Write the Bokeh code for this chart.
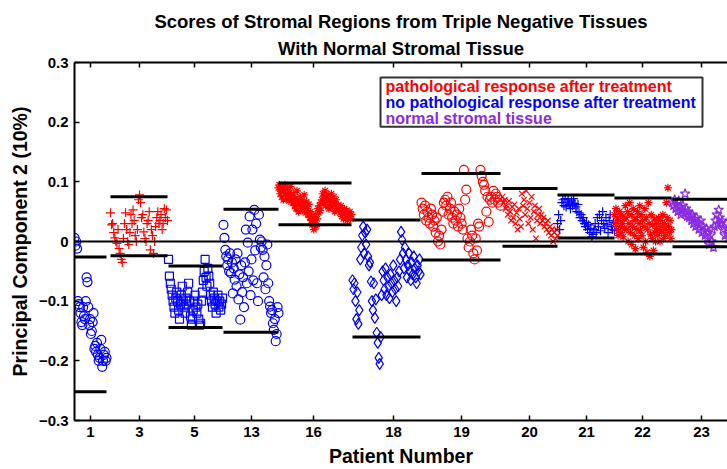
from bokeh.plotting import figure
from bokeh.models import (FixedTicker, LinearAxis, Range1d, Span, Title,
                          BoxAnnotation, Label, ColumnDataSource)
from bokeh.embed import file_html
from bokeh.resources import INLINE

FONT = "Liberation Sans"

# ---------------- data ----------------
patients = ["1", "3", "5", "13", "16", "18", "19", "20", "21", "22", "23"]
tick_positions = [16, 65, 120, 177, 239, 319, 387, 455, 512, 568, 627]
# sample-index range occupied by each patient
span_start = [0, 36, 94, 149, 204, 278, 347, 428, 483, 540, 598]
span_end = [32, 93, 148, 204, 277, 346, 426, 483, 540, 597, 660]
# upper / lower bounds drawn as black bars
upper_bound = [-0.026, 0.075, -0.041, 0.054, 0.098, 0.036, 0.114, 0.089, 0.078, 0.073, 0.071]
lower_bound = [-0.252, -0.024, -0.144, -0.152, 0.028, -0.160, -0.031, -0.008, 0.006, -0.021, -0.009]
group = ["none", "resp", "none", "none", "resp", "none", "resp", "resp", "none", "resp", "normal"]
markers = ["circle", "cross", "square", "circle", "asterisk", "diamond", "circle", "x", "cross", "asterisk", "star"]

p1 = [0.006, -0.007, 0.0, -0.012, -0.10, -0.105, -0.11, -0.12, -0.135, -0.14, -0.11, -0.125,
      -0.13, -0.10, -0.06, -0.068, -0.11, -0.14, -0.13, -0.155, -0.15, -0.135, -0.12, -0.18,
      -0.175, -0.185, -0.17, -0.19, -0.2, -0.195, -0.18, -0.165, -0.21, -0.2, -0.19, -0.185,
      -0.2, -0.195]
p3 = [0.048, 0.028, 0.03, 0.015, 0.006, 0.0, -0.003, 0.02, -0.012, -0.02, -0.03, -0.035,
      0.005, 0.03, 0.048, 0.02, 0.0, -0.005, 0.015, 0.045, 0.03, 0.053, 0.035, 0.01, 0.0,
      0.02, 0.07, 0.078, 0.065, 0.04, 0.045, 0.016, 0.005, 0.0, 0.03, 0.035, 0.05, -0.014,
      0.02, 0.01, -0.02, 0.0, 0.025, 0.04, 0.05, 0.03, 0.035, 0.045, 0.02, 0.03, 0.055,
      0.04, 0.053, 0.035]
p5 = [-0.03, -0.058, -0.07, -0.08, -0.09, -0.1, -0.11, -0.12, -0.095, -0.085, -0.1, -0.115,
      -0.13, -0.105, -0.09, -0.075, -0.1, -0.11, -0.12, -0.095, -0.105, -0.085, -0.07, -0.1,
      -0.125, -0.14, -0.13, -0.115, -0.1, -0.09, -0.11, -0.12, -0.105, -0.13, -0.14, -0.137,
      -0.1, -0.085, -0.065, -0.05, -0.03, -0.06, -0.075, -0.045, -0.058, -0.07, -0.09, -0.1,
      -0.11, -0.085, -0.095, -0.105, -0.12, -0.1, -0.09, -0.11, -0.1, -0.115, -0.105, -0.095]
p13 = [0.028, 0.006, -0.014, -0.025, -0.04, -0.03, -0.05, -0.02, -0.053, -0.035, -0.087, -0.045,
       -0.064, -0.03, -0.075, -0.02, -0.097, -0.055, -0.131, -0.04, -0.085, -0.06, -0.11, -0.035,
       0.02, -0.07, -0.002, -0.05, 0.042, -0.09, -0.03, 0.02, -0.065, 0.053, -0.015, 0.03,
       -0.07, -0.1, 0.045, 0.003, -0.01, 0.0, -0.014, -0.06, -0.025, -0.08, -0.04, -0.005,
       -0.07, -0.1, -0.109, -0.12, -0.115, -0.137, -0.148, -0.13, -0.167, -0.155, -0.11, -0.12]
p16 = [0.09, 0.095, 0.08, 0.085, 0.075, 0.09, 0.07, 0.085, 0.095, 0.08, 0.072, 0.088, 0.078,
       0.068, 0.082, 0.092, 0.075, 0.07,
       0.065, 0.08, 0.06, 0.072, 0.055, 0.085, 0.068, 0.05, 0.062, 0.075, 0.058, 0.07, 0.052,
       0.065, 0.078, 0.06, 0.048, 0.066,
       0.055, 0.045, 0.062, 0.04, 0.05, 0.035, 0.028, 0.04, 0.02, 0.032, 0.045, 0.025, 0.038,
       0.055, 0.048, 0.06, 0.052, 0.065,
       0.07, 0.08, 0.065, 0.075, 0.085, 0.06, 0.072, 0.068, 0.078, 0.055, 0.07, 0.062, 0.08,
       0.058, 0.066, 0.075, 0.05, 0.064, 0.07, 0.058, 0.06, 0.052,
       0.055, 0.048, 0.06, 0.042, 0.05, 0.038, 0.055, 0.045, 0.04, 0.052, 0.035, 0.048, 0.042,
       0.05, 0.038, 0.045]
p18 = [-0.065, -0.08, -0.07, -0.1, -0.13, -0.085, -0.138, -0.115,
       -0.03, -0.01, 0.01, 0.025, -0.02, 0.015, -0.005, 0.02, -0.025, -0.04,
       -0.035, -0.067, -0.1, -0.115, -0.07, -0.128, -0.097, -0.153, -0.17, -0.195, -0.205,
       -0.16, -0.09,
       -0.05, -0.065, -0.08, -0.045, -0.09, -0.06, -0.075, -0.095, -0.055, -0.07, -0.085,
       -0.04, -0.065, -0.08, -0.1, -0.06, -0.075, -0.05,
       -0.03, 0.016, 0.003, -0.02, -0.045, -0.01, -0.03, -0.06, -0.04, -0.02, -0.05, -0.065,
       -0.035, -0.055, -0.025, -0.045, -0.06, -0.07, -0.04, -0.05, -0.03, -0.055]
p19 = [0.065, 0.055, 0.045, 0.06, 0.035, 0.05, 0.04, 0.03, 0.055, 0.045, 0.025, 0.035, 0.015, 0.04,
       0.0, 0.01, -0.005, 0.02, 0.05, 0.065, 0.07, 0.06, 0.075, 0.045, 0.055, 0.065,
       0.04, 0.03, 0.05, 0.035, 0.045, 0.025, 0.055, 0.04, 0.03, 0.02,
       0.12, 0.07, 0.087, 0.005, -0.01, 0.0, 0.02, 0.01, -0.02, -0.03, 0.005, -0.015, 0.03, 0.025,
       0.12, 0.11, 0.1, 0.095, 0.085, 0.05, 0.075, 0.033, 0.07, 0.075, 0.065, 0.085, 0.07, 0.08,
       0.075, 0.065, 0.07, 0.06]
p20 = [0.075, 0.065, 0.07, 0.055, 0.06, 0.045, 0.068, 0.05, 0.035, 0.058, 0.04, 0.062, 0.03,
       0.048, 0.02, 0.055, 0.038, 0.025,
       0.08, 0.06, 0.07, 0.045, 0.085, 0.055, 0.03, 0.065, 0.04, 0.075, 0.02, 0.05, 0.06, 0.005,
       0.035, 0.045, 0.055, 0.03,
       0.045, 0.035, 0.04, 0.025, 0.03, 0.02, 0.035, 0.015, 0.025, 0.01, 0.02, 0.0, 0.015,
       0.005, 0.02, 0.01]
p21 = [0.03, 0.045, 0.02, 0.035,
       0.065, 0.07, 0.06, 0.072, 0.058, 0.066, 0.07, 0.062, 0.055, 0.068, 0.06, 0.072, 0.064,
       0.058, 0.05, 0.062,
       0.048, 0.04, 0.045, 0.035, 0.04, 0.03, 0.025, 0.032, 0.02, 0.028, 0.015, 0.022, 0.008,
       0.012,
       0.02, 0.03, 0.015, 0.04, 0.025, 0.045, 0.018, 0.035, 0.05, 0.03, 0.022, 0.04, 0.028,
       0.015, 0.035, 0.045, 0.025, 0.02, 0.032, 0.018]
p22 = [0.045, 0.03, 0.055, 0.02, 0.04, 0.01, 0.035, 0.05, 0.025, 0.015, 0.045, 0.03, 0.008,
       0.038, 0.022,
       0.06, 0.04, 0.02, 0.05, 0.0, 0.03, 0.065, 0.015, 0.045, -0.005, 0.025, 0.055, 0.035,
       0.01, -0.012, 0.04, 0.02, 0.05, 0.005, 0.03, 0.06, 0.018,
       0.045, 0.01, 0.035, -0.01, 0.025, 0.055, 0.0, 0.04, -0.018, 0.02, 0.065, 0.03, -0.025,
       0.012, 0.045, 0.005, 0.028, -0.015, 0.038, 0.015, 0.0, 0.022,
       0.03, 0.01, 0.04, 0.02, 0.0, 0.035, 0.015, 0.025, 0.045, 0.005, 0.03, 0.02, 0.01, 0.065,
       0.04, 0.09, 0.025, 0.015, 0.035, 0.005, 0.02]
p23 = [0.065, 0.06, 0.07, 0.055, 0.062, 0.05, 0.068, 0.058, 0.045, 0.052, 0.06, 0.048, 0.08,
       0.055, 0.042, 0.05, 0.04, 0.045,
       0.035, 0.045, 0.03, 0.038, 0.025, 0.04, 0.032, 0.02, 0.028, 0.035, 0.015, 0.025, 0.018,
       0.01, 0.022,
       0.005, 0.015, -0.005, 0.01, 0.0, 0.02, -0.01, 0.025, 0.035, 0.045, 0.03, 0.053,
       0.04, 0.03, 0.035, 0.02, 0.025, 0.01, 0.03, 0.015, 0.005, 0.02,
       0.01, 0.0, 0.015, 0.008, 0.012]
scores = [p1, p3, p5, p13, p16, p18, p19, p20, p21, p22, p23]

legend_labels = ["pathological response after treatment",
                 "no pathological response after treatment",
                 "normal stromal tissue"]
group_colors = {"resp": "#ff0000", "none": "#0000ff", "normal": "#8a2be2"}
marker_sizes = {"circle": 9, "cross": 9, "square": 8, "asterisk": 8, "diamond": 11,
                "x": 8, "star": 10}

# ---------------- figure ----------------
p = figure(width=727, height=469, output_backend="svg", toolbar_location=None,
           x_range=Range1d(0, 653), y_range=Range1d(-0.3, 0.3),
           min_border_left=74, min_border_right=0, min_border_top=62, min_border_bottom=48)
p.outline_line_color = None
p.grid.visible = False
p.background_fill_color = "white"
p.border_fill_color = "white"

for i, name in enumerate(patients):
    ys = scores[i]
    n = len(ys)
    step = (span_end[i] - span_start[i]) / (n - 1)
    xs = [span_start[i] + k * step for k in range(n)]
    src = ColumnDataSource(dict(x=xs, y=ys))
    mk = markers[i]
    p.scatter("x", "y", source=src, marker=mk, size=marker_sizes[mk],
              line_color=group_colors[group[i]], fill_color=None, line_width=1.2)

bars = ColumnDataSource(dict(x0=span_start, x1=span_end, up=upper_bound, lo=lower_bound))
p.segment(x0="x0", x1="x1", y0="up", y1="up", source=bars, line_color="black", line_width=3)
p.segment(x0="x0", x1="x1", y0="lo", y1="lo", source=bars, line_color="black", line_width=3)

p.add_layout(Span(location=0, dimension="width", line_color="black", line_width=2))

# legend box
p.add_layout(BoxAnnotation(left=306, right=628, top=0.275, bottom=0.1925,
                           fill_color="white", fill_alpha=1.0,
                           line_color="#333333", line_width=2, line_alpha=1.0))
leg_y = [0.2594, 0.2326, 0.2054]
for lab, col, yy in zip(legend_labels, ["resp", "none", "normal"], leg_y):
    p.add_layout(Label(x=311, y=yy, text=lab, text_color=group_colors[col],
                       text_font=FONT, text_font_style="bold", text_font_size="16px",
                       text_baseline="middle", text_align="left"))

# axes
y_ticks = [-0.3, -0.2, -0.1, 0.0, 0.1, 0.2, 0.3]
xax = p.xaxis[0]
xax.ticker = FixedTicker(ticks=tick_positions)
xax.major_label_overrides = {t: lab for t, lab in zip(tick_positions, patients)}
xax.axis_label = "Patient Number"
yax = p.yaxis[0]
yax.ticker = FixedTicker(ticks=y_ticks)
yax.major_label_overrides = {0.0: "0"}
yax.axis_label = "Principal Component 2 (10%)"
for ax in (xax, yax):
    ax.axis_line_color = "black"
    ax.axis_line_width = 2
    ax.major_tick_in = 5
    ax.major_tick_out = 0
    ax.major_tick_line_width = 1.5
    ax.minor_tick_line_color = None
    ax.major_label_text_font = FONT
    ax.major_label_text_font_style = "bold"
    ax.major_label_text_font_size = "15px"
    ax.major_label_text_color = "black"
    ax.axis_label_text_font = FONT
    ax.axis_label_text_font_style = "bold"
    ax.axis_label_text_font_size = "19.5px"
    ax.axis_label_text_color = "black"
    ax.major_label_standoff = 6
    ax.axis_label_standoff = 5

top = LinearAxis(ticker=FixedTicker(ticks=tick_positions))
top.axis_line_width = 2
top.major_tick_in = 5
top.major_tick_out = 0
top.major_tick_line_width = 1.5
top.minor_tick_line_color = None
top.major_label_overrides = {t: "" for t in tick_positions}
top.major_label_standoff = 0
p.add_layout(top, "above")

p.title.text = "Scores of Stromal Regions from Triple Negative Tissues"
p.add_layout(Title(text="With Normal Stromal Tissue", align="center", text_font=FONT,
                   text_font_style="bold", text_font_size="18.5px", text_color="black",
                   standoff=7), "above")
p.title.align = "center"
p.title.text_font = FONT
p.title.text_font_style = "bold"
p.title.text_font_size = "18.5px"
p.title.text_color = "black"
p.title.standoff = 2

open("out.html", "w").write(file_html(p, INLINE))
